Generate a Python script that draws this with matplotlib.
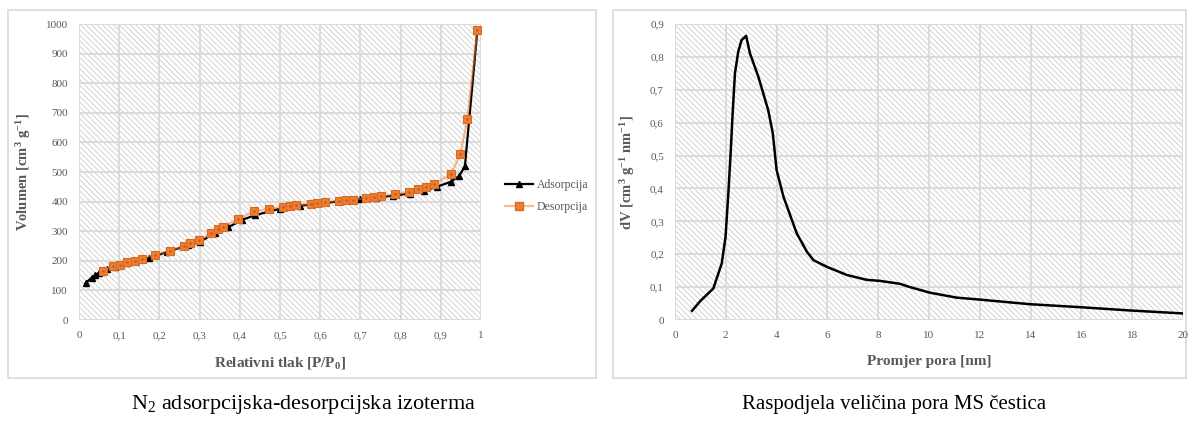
import matplotlib
matplotlib.use("Agg")
import matplotlib.pyplot as plt
from matplotlib.patches import Rectangle
from matplotlib.lines import Line2D
from matplotlib.ticker import FuncFormatter, MultipleLocator

# ---------------- data ----------------
ads_p = [0.017, 0.032, 0.041, 0.05, 0.07, 0.09, 0.12, 0.174, 0.22, 0.27, 0.30,
         0.338, 0.371, 0.405, 0.438, 0.50, 0.55, 0.60, 0.65, 0.70, 0.74, 0.78,
         0.823, 0.857, 0.89, 0.925, 0.946, 0.960, 0.991]
ads_v = [126, 143, 152, 160, 172, 180, 192, 210, 230, 252, 264,
         293, 313, 338, 354, 376, 386, 394, 401, 408, 413, 420,
         427, 435, 450, 467, 487, 520, 979]

des_p = [0.06, 0.085, 0.102, 0.119, 0.139, 0.156, 0.189, 0.226, 0.26, 0.276,
         0.299, 0.329, 0.347, 0.357, 0.396, 0.436, 0.473, 0.507, 0.525, 0.541,
         0.576, 0.593, 0.611, 0.647, 0.664, 0.681, 0.715, 0.735, 0.752, 0.785,
         0.822, 0.843, 0.862, 0.883, 0.925, 0.949, 0.966, 0.991]
des_v = [165, 181, 187, 195, 200, 207, 221, 233, 250, 260,
         269, 294, 306, 314, 341, 368, 375, 381, 385, 388,
         392, 395, 399, 402, 405, 407, 411, 414, 419, 424,
         434, 441, 449, 458, 493, 560, 680, 979]

pore_d = [0.67, 1.0, 1.51, 1.84, 1.99, 2.10, 2.19, 2.27, 2.36, 2.49, 2.62, 2.80,
          2.95, 3.28, 3.67, 3.85, 4.0, 4.27, 4.79, 5.19, 5.45, 5.97, 6.76, 7.55,
          8.07, 8.86, 9.25, 10.04, 11.09, 12.0, 13.98, 15.94, 17.91, 19.99]
pore_dv = [0.028, 0.058, 0.096, 0.172, 0.253, 0.385, 0.507, 0.629, 0.750, 0.816,
           0.851, 0.864, 0.811, 0.740, 0.638, 0.568, 0.456, 0.375, 0.264, 0.208,
           0.182, 0.162, 0.137, 0.122, 0.119, 0.110, 0.100, 0.083, 0.068, 0.062,
           0.048, 0.039, 0.029, 0.020]

left_caption = "N$_2$ adsorpcijska-desorpcijska izoterma"
right_caption = "Raspodjela veličina pora MS čestica"

# ---------------- style ----------------
plt.rcParams['font.family'] = ['Liberation Serif', 'DejaVu Serif']
plt.rcParams['mathtext.default'] = 'regular'
plt.rcParams['hatch.linewidth'] = 0.7
GRAY = '#595959'
GRID = '#d9d9d9'
HATCH = '#d2d2d2'
ORANGE = '#ED7D31'

W, H = 1189, 421
fig = plt.figure(figsize=(W / 100, H / 100), dpi=100)


def fx(px):
    return px / W


def fy(py):
    return 1 - py / H


# outer panel boxes
for (x0, y0, x1, y1) in [(8, 10, 596, 378), (613, 10, 1186, 378)]:
    fig.patches.append(Rectangle((fx(x0), fy(y1)), fx(x1 - x0), (y1 - y0) / H,
                                 transform=fig.transFigure, facecolor='white',
                                 edgecolor=GRID, lw=1.2, zorder=-10))

fmt = FuncFormatter(lambda v, p: ('%g' % round(v, 3)).replace('.', ','))


def style_axes(ax):
    ax.set_zorder(1)
    ax.patch.set_alpha(0)
    ax.set_axisbelow(True)
    for s in ax.spines.values():
        s.set_visible(False)
    ax.add_patch(Rectangle((0, 0), 1, 1, transform=ax.transAxes, facecolor='white',
                           edgecolor=HATCH, hatch='\\' * 6, lw=0, zorder=0))
    ax.grid(True, color=GRID, lw=1.3)
    ax.tick_params(length=0, labelsize=8, labelcolor=GRAY, pad=8)
    ax.xaxis.set_major_formatter(fmt)
    ax.yaxis.set_major_formatter(fmt)


# ---------------- left chart ----------------
axL = fig.add_axes([fx(79), fy(320), fx(481 - 79), (320 - 24) / H])
style_axes(axL)
axL.set_xlim(0, 1)
axL.set_ylim(0, 1000)
axL.xaxis.set_major_locator(MultipleLocator(0.1))
axL.yaxis.set_major_locator(MultipleLocator(100))

axL.plot(ads_p, ads_v, color='black', lw=1.6, marker='^', ms=4.5, zorder=3)
axL.plot(des_p, des_v, color=ORANGE, lw=1.6, alpha=0.5, zorder=4)
axL.plot(des_p, des_v, ls='none', marker='s', ms=6, mfc=ORANGE, mec='#d86a22',
         mew=0.8, zorder=5)
axL.plot(des_p, des_v, ls='none', marker='s', ms=1.5, mfc='#b0541a', mec='none', zorder=6)

axL.set_xlabel("Relativni tlak [P/P$_0$]", fontsize=11, fontweight='bold', color=GRAY)
axL.set_ylabel("Volumen [cm$^3$ g$^{-1}$]", fontsize=10.5, fontweight='bold', color=GRAY)
axL.xaxis.set_label_coords(0.5, (320 - 355) / 296)
axL.yaxis.set_label_coords((33 - 79) / 402, 0.5)

handles = [Line2D([], [], color='black', lw=1.6, marker='^', ms=4.5),
           Line2D([], [], color='#f6be98', lw=1.6, marker='s', ms=6, mfc=ORANGE, mec='#d86a22')]
leg = fig.legend(handles, ['Adsorpcija', 'Desorpcija'], loc='upper left',
                 bbox_to_anchor=(fx(500), fy(174)), frameon=False, fontsize=8.5,
                 handlelength=2.4, labelspacing=0.9, handletextpad=0.3, borderaxespad=0)
for t in leg.get_texts():
    t.set_color(GRAY)

# ---------------- right chart ----------------
axR = fig.add_axes([fx(675), fy(320), fx(1183 - 675), (320 - 24) / H])
style_axes(axR)
axR.set_xlim(0, 20)
axR.set_ylim(0, 0.9)
axR.xaxis.set_major_locator(MultipleLocator(2))
axR.yaxis.set_major_locator(MultipleLocator(0.1))
axR.plot(pore_d, pore_dv, color='black', lw=1.8, zorder=3, solid_joinstyle='round')
axR.set_xlabel("Promjer pora [nm]", fontsize=11, fontweight='bold', color=GRAY)
axR.set_ylabel("dV [cm$^3$ g$^{-1}$ nm$^{-1}$]", fontsize=10.5, fontweight='bold', color=GRAY)
axR.xaxis.set_label_coords(0.5, (320 - 355) / 296)
axR.yaxis.set_label_coords((637 - 675) / 508, 0.5)

# ---------------- captions ----------------
fig.text(fx(303), fy(404), left_caption, ha='center', va='center', fontsize=16, color='black')
fig.text(fx(894), fy(404), right_caption, ha='center', va='center', fontsize=15, color='black')

fig.savefig('out.png', dpi=100, facecolor='white')
